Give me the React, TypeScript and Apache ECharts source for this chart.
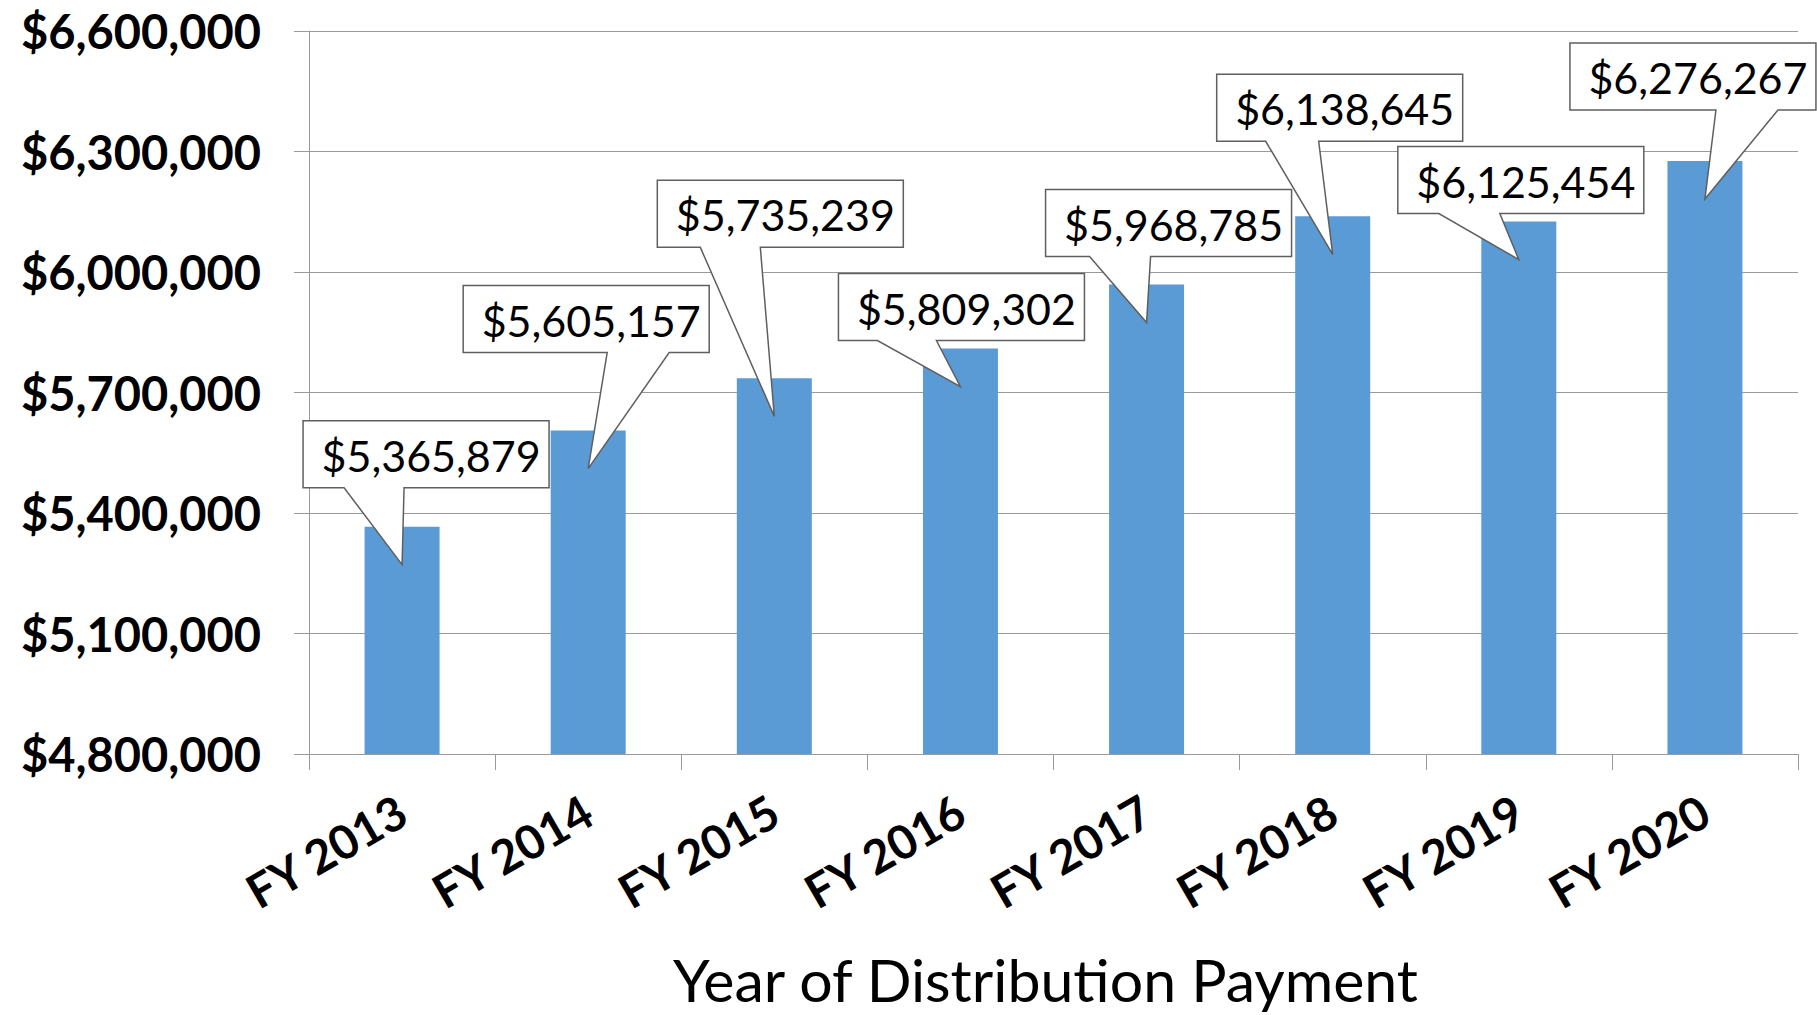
import React, { useEffect, useRef } from "react";
import * as echarts from "echarts";

const categories = ["FY 2013", "FY 2014", "FY 2015", "FY 2016", "FY 2017", "FY 2018", "FY 2019", "FY 2020"];
const payments = [5365879, 5605157, 5735239, 5809302, 5968785, 6138645, 6125454, 6276267];
const yMin = 4800000;
const yMax = 6600000;
const yStep = 300000;
const xTitle = "Year of Distribution Payment";

// callout layout (pixels, relative to bar top-centre): box centre dx, box bottom dy from tip, tail base x1/x2
const calloutLayout = [
  { bx: 24, by: -77, t1: -58, t2: 2 },
  { bx: -2, by: -116, t1: 19, t2: 81 },
  { bx: 6, by: -169, t1: -74, t2: -14 },
  { bx: 1, by: -46, t1: -83, t2: -24 },
  { bx: 22, by: -66, t1: -57, t2: 4 },
  { bx: 7, by: -113, t1: -67, t2: -14 },
  { bx: 2, by: -46, t1: -80, t2: -19 },
  { bx: -12, by: -89, t1: 11, t2: 73 },
];

const fmt = (v: number) => "$" + Math.round(v).toLocaleString("en-US");

export default function App() {
  const ref = useRef<HTMLDivElement>(null);
  useEffect(() => {
    document.body.style.margin = "0";
    const chart = echarts.init(ref.current!, null, { renderer: "svg" });
    const gridColor = "#9a9a9a";
    const boxW = 246;
    const boxH = 67;
    const tipDrop = 38;
    chart.setOption({
      animation: false,
      backgroundColor: "#ffffff",
      textStyle: { fontFamily: "Lato" },
      grid: { left: 309, right: 19, top: 31, bottom: 261, containLabel: false, outerBoundsMode: "none" },
      xAxis: {
        type: "category",
        data: categories,
        axisLine: { lineStyle: { color: gridColor, width: 1 } },
        axisTick: { show: true, length: 16, lineStyle: { color: gridColor } },
        axisLabel: {
          rotate: 30,
          margin: 53,
          fontSize: 47,
          fontWeight: "bold",
          fontFamily: "Lato",
          color: "#000",
        },
        name: xTitle,
        nameLocation: "middle",
        nameGap: 196,
        nameTextStyle: { fontSize: 59, fontFamily: "Lato", color: "#000", padding: [0, 16, 0, 0] },
      },
      yAxis: {
        type: "value",
        min: yMin,
        max: yMax,
        interval: yStep,
        axisLine: { show: true, lineStyle: { color: gridColor, width: 1 } },
        axisTick: { show: true, length: 15, lineStyle: { color: gridColor } },
        splitLine: { show: true, lineStyle: { color: gridColor, width: 1 } },
        axisLabel: {
          formatter: (v: number) => fmt(v),
          margin: 48,
          fontSize: 47,
          fontWeight: "bold",
          fontFamily: "Lato",
          color: "#000",
        },
      },
      series: [
        {
          type: "bar",
          data: payments,
          barWidth: 75,
          itemStyle: { color: "#5B9BD5" },
        },
        {
          type: "custom",
          data: payments.map((v, i) => [i, v]),
          encode: { x: 0, y: 1 },
          clip: false,
          z: 10,
          renderItem: (params: any, api: any) => {
            const i = api.value(0);
            const v = api.value(1);
            const p = api.coord([i, v]);
            const L = calloutLayout[params.dataIndex];
            const tipX = p[0];
            const tipY = p[1] + tipDrop;
            const bottom = tipY + L.by;
            const top = bottom - boxH;
            const cx = p[0] + L.bx;
            const left = cx - boxW / 2;
            const right = cx + boxW / 2;
            const points = [
              [left, top],
              [right, top],
              [right, bottom],
              [p[0] + L.t2, bottom],
              [tipX, tipY],
              [p[0] + L.t1, bottom],
              [left, bottom],
            ];
            return {
              type: "group",
              children: [
                {
                  type: "polygon",
                  shape: { points },
                  style: { fill: "#ffffff", stroke: "#5f5f5f", lineWidth: 1.5 },
                },
                {
                  type: "text",
                  x: cx + 5,
                  y: (top + bottom) / 2 + 1,
                  style: {
                    text: fmt(v),
                    fontSize: 43,
                    fontFamily: "Lato",
                    fill: "#000",
                    align: "center",
                    verticalAlign: "middle",
                  },
                },
              ],
            };
          },
        },
      ],
    });
    return () => chart.dispose();
  }, []);
  return <div ref={ref} style={{ position: "fixed", left: 0, top: 0, width: 1817, height: 1015 }} />;
}
